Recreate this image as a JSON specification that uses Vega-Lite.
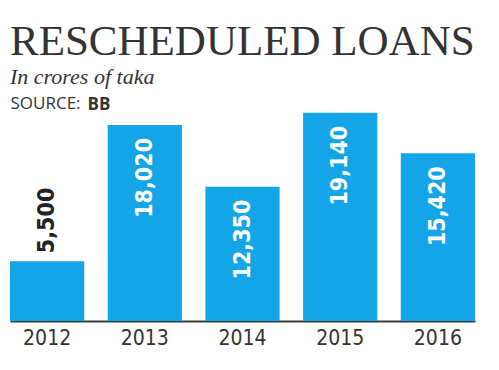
{
  "$schema": "https://vega.github.io/schema/vega-lite/v6.json",
  "autosize": "none",
  "width": 465,
  "height": 217.6,
  "padding": {"left": 10, "top": 103.4, "right": 24, "bottom": 49},
  "background": "#ffffff",
  "title": {
    "text": "RESCHEDULED LOANS",
    "subtitle": "In crores of taka",
    "anchor": "start",
    "frame": "group",
    "offset": 6,
    "font": "Liberation Serif",
    "fontSize": 43,
    "fontWeight": "normal",
    "color": "#333333",
    "subtitleFont": "Liberation Serif",
    "subtitleFontStyle": "italic",
    "subtitleFontSize": 22,
    "subtitleColor": "#333333",
    "subtitlePadding": 3
  },
  "data": {
    "values": [
      {"year": "2012", "value": 5500},
      {"year": "2013", "value": 18020},
      {"year": "2014", "value": 12350},
      {"year": "2015", "value": 19140},
      {"year": "2016", "value": 15420}
    ]
  },
  "encoding": {
    "x": {
      "field": "year",
      "type": "ordinal",
      "scale": {"paddingInner": 0.24, "paddingOuter": 0},
      "axis": {
        "title": "BB",
        "titleFont": "Open Sans",
        "titleFontSize": 17,
        "titleFontWeight": "bold",
        "titleColor": "#333333",
        "titleAngle": 0,
        "titleAlign": "left",
        "titleBaseline": "top",
        "titleX": 77,
        "titleY": -225,
        "labelAngle": 0,
        "labelFont": "DejaVu Sans Condensed, sans-serif",
        "labelFontSize": 21,
        "labelColor": "#333333",
        "labelPadding": 6,
        "ticks": false,
        "domainColor": "#3a3a3a",
        "domainWidth": 2,
        "grid": false
      }
    },
    "y": {
      "field": "value",
      "type": "quantitative",
      "scale": {"domain": [0, 20000], "nice": false},
      "axis": {
        "title": "SOURCE:",
        "titleFont": "Open Sans",
        "titleFontSize": 17,
        "titleFontWeight": "normal",
        "titleColor": "#333333",
        "titleAngle": 0,
        "titleAlign": "left",
        "titleBaseline": "top",
        "titleX": 0,
        "titleY": -8,
        "labels": false,
        "ticks": false,
        "domain": false,
        "grid": false
      }
    }
  },
  "layer": [
    {"mark": {"type": "bar", "color": "#14a5e8"}},
    {
      "transform": [{"filter": "datum.value >= 8000"}],
      "mark": {
        "type": "text",
        "angle": 270,
        "align": "right",
        "baseline": "middle",
        "dx": -13,
        "font": "DejaVu Sans Condensed, sans-serif",
        "fontSize": 23,
        "fontWeight": "bold",
        "color": "#ffffff"
      },
      "encoding": {"text": {"field": "value", "type": "quantitative", "format": ","}}
    },
    {
      "transform": [{"filter": "datum.value < 8000"}],
      "mark": {
        "type": "text",
        "angle": 270,
        "align": "left",
        "baseline": "middle",
        "dx": 8,
        "font": "DejaVu Sans Condensed, sans-serif",
        "fontSize": 23,
        "fontWeight": "bold",
        "color": "#222222"
      },
      "encoding": {"text": {"field": "value", "type": "quantitative", "format": ","}}
    }
  ],
  "config": {"view": {"stroke": null}}
}
